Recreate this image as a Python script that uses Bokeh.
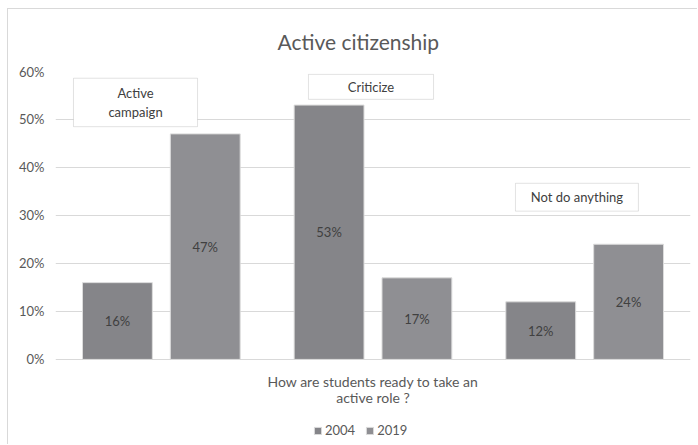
from bokeh.plotting import figure
from bokeh.models import (ColumnDataSource, Range1d, FixedTicker, PrintfTickFormatter,
                          Legend, LegendItem, BoxAnnotation, Label, LabelSet)
from bokeh.core.properties import value
from bokeh.transform import dodge
from bokeh.embed import file_html
from bokeh.resources import INLINE

categories = ["Active campaign", "Criticize", "Not do anything"]
years = ["2004", "2019"]
values_2004 = [16, 53, 12]
values_2019 = [47, 17, 24]
y_ticks = [0, 10, 20, 30, 40, 50, 60]
axis_title = ["How are students ready to take an", "active role ?"]

FONT = "Lato"
TXT = "#595959"
C2004 = "#858589"
C2019 = "#8f8f93"

xpos = [i + 0.5 for i in range(len(categories))]

# the frame reaches down to the bottom of the canvas; the area below 0% holds
# the axis title and the legend
p = figure(width=690, height=436, x_range=Range1d(0, len(categories)),
           y_range=Range1d(-17.94, 60), output_backend="svg", toolbar_location=None,
           min_border_left=47, min_border_right=8, min_border_top=58, min_border_bottom=0)
p.outline_line_color = None
p.background_fill_color = "white"
p.border_fill_color = "white"
p.styles = {"border-left": "1px solid #d9d9d9", "border-top": "1px solid #d9d9d9",
            "margin": "8px 0px 0px 7px"}

p.title.text = "Active citizenship"
p.title.align = "left"
p.title.offset = 222
p.title.text_font = FONT
p.title.text_font_size = "21px"
p.title.text_font_style = "normal"
p.title.text_color = TXT
p.title.standoff = 35

src1 = ColumnDataSource(dict(x=xpos, cat=categories, v=values_2004,
                             mid=[v / 2 for v in values_2004],
                             lab=[f"{v}%" for v in values_2004]))
src2 = ColumnDataSource(dict(x=xpos, cat=categories, v=values_2019,
                             mid=[v / 2 for v in values_2019],
                             lab=[f"{v}%" for v in values_2019]))

off = 0.2075
bw = 0.33
r1 = p.vbar(x=dodge("x", -off), top="v", width=bw, source=src1,
            fill_color=C2004, line_color="#dcdcdc", line_width=1)
r2 = p.vbar(x=dodge("x", off), top="v", width=bw, source=src2,
            fill_color=C2019, line_color="#dcdcdc", line_width=1)

for src, o in ((src1, -off), (src2, off)):
    p.add_layout(LabelSet(x=dodge("x", o), y="mid", text="lab", source=src,
                          text_align="center", text_baseline="middle",
                          text_font=value(FONT), text_font_size=value("13px"),
                          text_color="#404040"))

# y axis
p.yaxis.ticker = FixedTicker(ticks=y_ticks)
p.yaxis.formatter = PrintfTickFormatter(format="%d%%")
p.yaxis.axis_line_color = None
p.yaxis.major_tick_line_color = None
p.yaxis.minor_tick_line_color = None
p.yaxis.major_label_text_font = FONT
p.yaxis.major_label_text_font_size = "13px"
p.yaxis.major_label_text_color = TXT
p.yaxis.major_label_standoff = 5

p.xaxis.visible = False
p.xgrid.grid_line_color = None
p.ygrid.grid_line_color = "#d9d9d9"
p.ygrid.ticker = FixedTicker(ticks=y_ticks)

# axis title under the categories
for line, yv in zip(axis_title, (-4.54, -8.04)):
    p.add_layout(Label(x=len(categories) / 2, y=yv, text=line, text_align="center",
                       text_baseline="middle", text_font=FONT, text_font_size="14px",
                       text_color=TXT))

# annotation boxes
boxes = [
    ("Active\ncampaign", 0.085, 0.671, 48.5, 58.6),
    ("Criticize", 1.195, 1.786, 54.2, 59.4),
    ("Not do anything", 2.173, 2.754, 30.9, 36.7),
]
for text, l, r, b, t in boxes:
    p.add_layout(BoxAnnotation(left=l, right=r, bottom=b, top=t, fill_color="white",
                               fill_alpha=1, line_color="#a0a0a0", line_width=1))
    p.add_layout(Label(x=(l + r) / 2, y=(b + t) / 2, text=text, text_align="center",
                       text_baseline="middle", text_font=FONT, text_font_size="13px",
                       text_color="#404040"))

legend = Legend(items=[LegendItem(label=years[0], renderers=[r1]),
                       LegendItem(label=years[1], renderers=[r2])],
                orientation="horizontal", location=(258, 5),
                label_text_font=FONT, label_text_font_size="13px", label_text_color=TXT,
                glyph_width=9, glyph_height=9, label_standoff=3, spacing=10,
                label_height=20, padding=0, margin=0,
                border_line_color=None, background_fill_alpha=0)
p.add_layout(legend, "center")

open("out.html", "w").write(file_html(p, INLINE))
